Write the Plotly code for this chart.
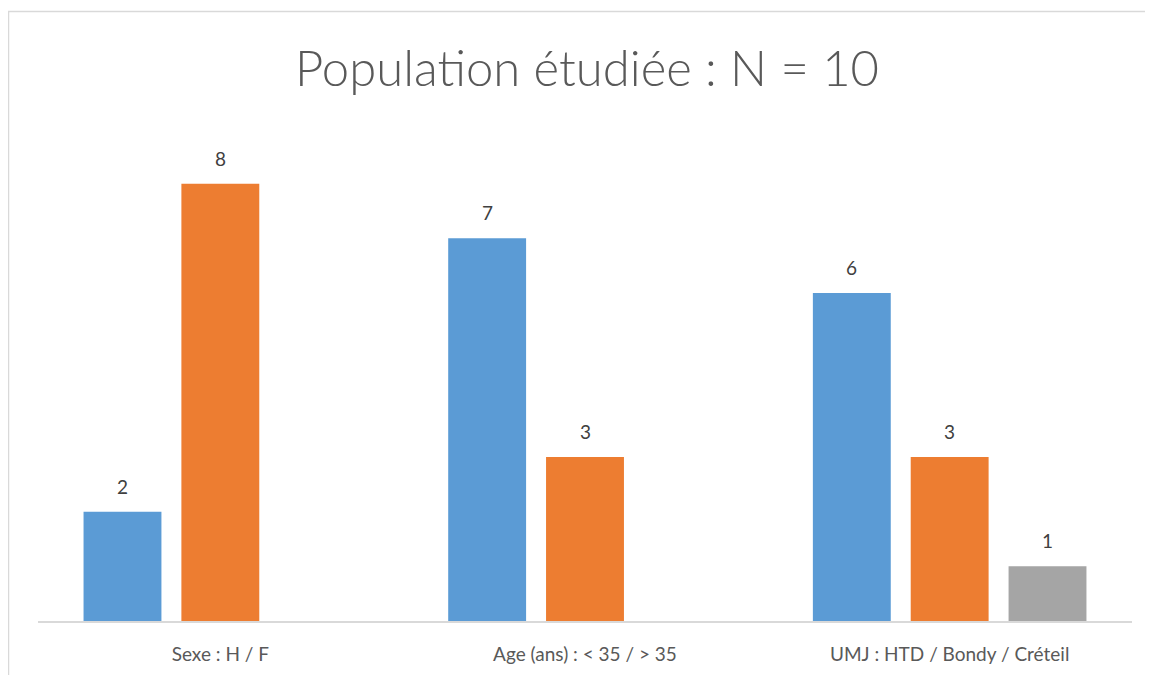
import plotly.graph_objects as go

categories = ["Sexe : H / F", "Age (ans) : < 35 / > 35", "UMJ : HTD / Bondy / Créteil"]
serie1 = [2, 7, 6]
serie2 = [8, 3, 3]
serie3 = [None, None, 1]
series = [serie1, serie2, serie3]
names = ["Série 1", "Série 2", "Série 3"]
colors = ["#5B9BD5", "#ED7D31", "#A5A5A5"]
title = "Population étudiée : N = 10"

W, H = 1153, 675
L, R, T, B = 30, 29, 121, 62
pw, ph = W - L - R, H - T - B
BARGAP, GROUPGAP = 0.195, 0.204
FONT = "Lato"

fig = go.Figure()
for name, vals, col in zip(names, series, colors):
    fig.add_trace(go.Bar(
        x=categories, y=vals, name=name,
        marker=dict(color=col, line=dict(width=0)),
    ))

# data labels placed above bars (offset derived from group layout)
slot_px = pw / len(categories) * (1 - BARGAP) / len(series)
for i, vals in enumerate(series):
    for cat, v in zip(categories, vals):
        if v is None:
            continue
        fig.add_annotation(x=cat, y=v, text=str(v), showarrow=False,
                           xanchor="center", yanchor="bottom",
                           xshift=(i - (len(series) - 1) / 2) * slot_px, yshift=12,
                           font=dict(family=FONT, size=19, color="#404040"))

# frame around chart area
fig.add_shape(type="rect", xref="paper", yref="paper",
              x0=(0.5 - L) / pw, x1=(W + 10 - L) / pw,
              y0=-(H + 10 - (H - B)) / ph, y1=((H - B) - 3.5) / ph,
              line=dict(color="#D9D9D9", width=1.5), layer="below")

fig.update_layout(
    width=W, height=H,
    margin=dict(l=L, r=R, t=T, b=B),
    paper_bgcolor="white", plot_bgcolor="white",
    barmode="group", bargap=BARGAP, bargroupgap=GROUPGAP,
    showlegend=False,
    title=dict(text=title, x=579 / W, xanchor="center", y=1 - 61 / H, yanchor="middle",
               font=dict(family=FONT, size=49, color="#595959", weight=300)),
    xaxis=dict(showgrid=False, showline=True, linecolor="#D9D9D9", linewidth=1.5,
               ticks="", ticklabelstandoff=15,
               tickfont=dict(family=FONT, size=19, color="#595959")),
    yaxis=dict(range=[0, 9], visible=False, showgrid=False),
)

fig.write_html("out.html")
